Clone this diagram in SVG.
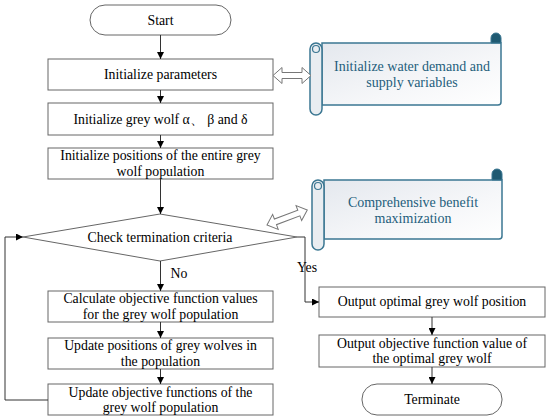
<svg xmlns="http://www.w3.org/2000/svg" width="550" height="420" viewBox="0 0 550 420">
<defs>
<marker id="ah" viewBox="0 0 10 10" refX="10" refY="5" markerWidth="7" markerHeight="7" markerUnits="userSpaceOnUse" orient="auto">
<path d="M0,0 L10,5 L0,10 Z" fill="#000"/>
</marker>
<linearGradient id="sg" x1="0" y1="0" x2="1" y2="1">
<stop offset="0" stop-color="#e4e8ee"/>
<stop offset="0.6" stop-color="#f6f7f9"/>
<stop offset="1" stop-color="#ffffff"/>
</linearGradient>
</defs>
<style>
.box{fill:#fff;stroke:#666;stroke-width:1}
.t{font-family:'Liberation Serif','Times New Roman',serif;font-size:13.8px;fill:#000;text-anchor:middle}
.st{font-family:'Liberation Serif','Times New Roman',serif;font-size:14px;fill:#245e7c;text-anchor:middle}
.c{fill:none;stroke:#333;stroke-width:1}
.ha{fill:#fff;stroke:#777;stroke-width:1}
.sc{fill:url(#sg);stroke:#3b7792;stroke-width:1.5}
.roll{fill:#e9edf1;stroke:#3b7792;stroke-width:1.5}
.curl{fill:#1f5a72;stroke:#3b7792;stroke-width:1}
</style>
<rect width="550" height="420" fill="#fff"/>

<g id="start"><rect class="box" x="90" y="5" width="141" height="30" rx="15"/><text class="t" x="160.5" y="25">Start</text></g>
<g id="initParams"><rect class="box" x="48" y="59" width="225" height="31"/><text class="t" x="160.5" y="79">Initialize parameters</text></g>
<g id="initWolf"><rect class="box" x="48" y="103" width="225" height="32"/><text class="t" x="160.5" y="124">Initialize grey wolf α、 β and δ</text></g>
<g id="initPos"><rect class="box" x="48" y="148" width="225" height="31"/><text class="t" x="160.5" y="160">Initialize positions of the entire grey</text><text class="t" x="160.5" y="176">wolf population</text></g>
<g id="check"><polygon class="box" points="160,214 297,237 160,261 23,237"/><text class="t" x="160" y="242">Check termination criteria</text></g>
<g id="calc"><rect class="box" x="48" y="291" width="225" height="31"/><text class="t" x="160.5" y="303">Calculate objective function values</text><text class="t" x="160.5" y="319">for the grey wolf population</text></g>
<g id="updPos"><rect class="box" x="48" y="338" width="225" height="31"/><text class="t" x="160.5" y="350">Update positions of grey wolves in</text><text class="t" x="160.5" y="366">the population</text></g>
<g id="updObj"><rect class="box" x="48" y="384" width="225" height="31"/><text class="t" x="160.5" y="397">Update objective functions of the</text><text class="t" x="160.5" y="412">grey wolf population</text></g>
<g id="outPos"><rect class="box" x="319" y="287" width="226" height="30"/><text class="t" x="432" y="306">Output optimal grey wolf position</text></g>
<g id="outVal"><rect class="box" x="319" y="335" width="226" height="32"/><text class="t" x="432" y="348">Output objective function value of</text><text class="t" x="432" y="363">the optimal grey wolf</text></g>
<g id="terminate"><rect class="box" x="362" y="384" width="140" height="31" rx="15"/><text class="t" x="432" y="404">Terminate</text></g>

<g id="scroll1">
<path class="sc" d="M322,43 H501 V102 Q501,105 498,105 H322 Z"/>
<path class="curl" d="M491,43 V38 A5,5 0 0 1 501,38 V43 Z"/>
<rect class="roll" x="310" y="43" width="12" height="72" rx="6"/>
<circle cx="316" cy="49" r="3.5" fill="none" stroke="#3b7792" stroke-width="1.2"/>
<text class="st" x="412" y="71">Initialize water demand and</text><text class="st" x="412" y="87">supply variables</text>
</g>
<g id="scroll2">
<path class="sc" d="M324,180 H502 V236 Q502,239 499,239 H324 Z"/>
<path class="curl" d="M492,180 V174 A5,5 0 0 1 502,174 V180 Z"/>
<rect class="roll" x="312" y="180" width="12" height="70" rx="6"/>
<circle cx="318" cy="186" r="3.5" fill="none" stroke="#3b7792" stroke-width="1.2"/>
<text class="st" x="413" y="207">Comprehensive benefit</text><text class="st" x="413" y="223">maximization</text>
</g>

<g id="connectors">
<line class="c" x1="160.5" y1="35" x2="160.5" y2="59" marker-end="url(#ah)"/>
<line class="c" x1="160.5" y1="90" x2="160.5" y2="103" marker-end="url(#ah)"/>
<line class="c" x1="160.5" y1="135" x2="160.5" y2="148" marker-end="url(#ah)"/>
<line class="c" x1="160.5" y1="179" x2="160.5" y2="214" marker-end="url(#ah)"/>
<line class="c" x1="160.5" y1="261" x2="160.5" y2="291" marker-end="url(#ah)"/>
<line class="c" x1="160.5" y1="322" x2="160.5" y2="338" marker-end="url(#ah)"/>
<line class="c" x1="160.5" y1="369" x2="160.5" y2="384" marker-end="url(#ah)"/>
<polyline class="c" points="48,400 5,400 5,237 23,237" marker-end="url(#ah)"/>
<polyline class="c" points="297,237 305,237 305,302 319,302" marker-end="url(#ah)"/>
<line class="c" x1="432" y1="317" x2="432" y2="335" marker-end="url(#ah)"/>
<line class="c" x1="432" y1="367" x2="432" y2="384" marker-end="url(#ah)"/>
<text class="t" x="179" y="278">No</text>
<text class="t" x="307" y="272">Yes</text>
<polygon class="ha" points="273,75.5 282,67.5 282,72.5 302,72.5 302,67.5 311,75.5 302,83.5 302,78.5 282,78.5 282,83.5"/>
<polygon class="ha" transform="translate(267,225) rotate(-20.5)" points="0,0 9,-8 9,-3 34,-3 34,-8 43,0 34,8 34,3 9,3 9,8"/>
</g>
</svg>
